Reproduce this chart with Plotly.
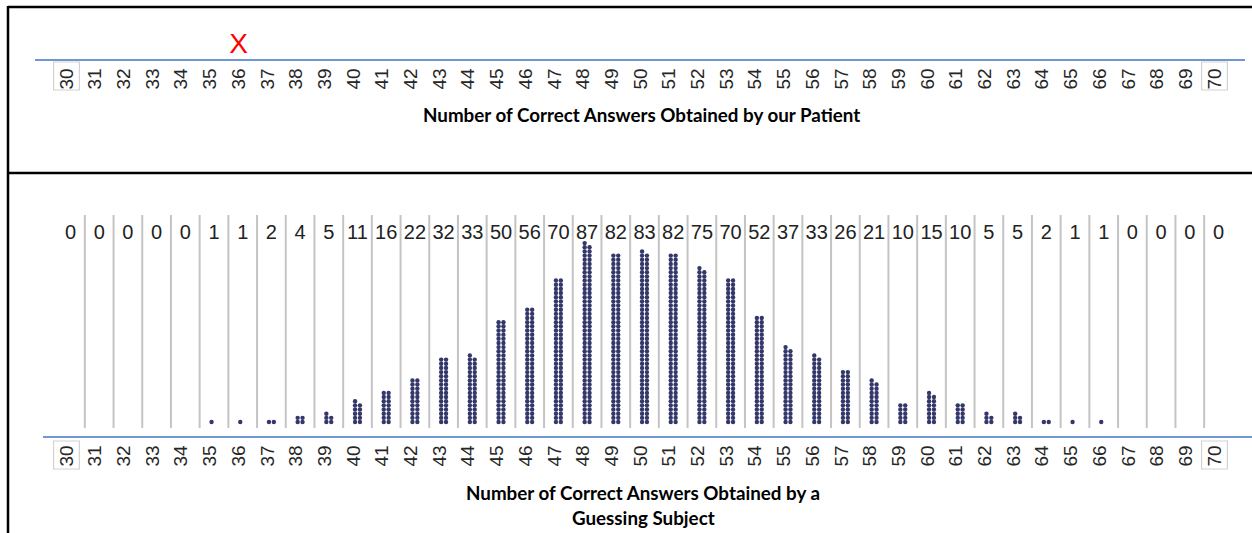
import plotly.graph_objects as go

# ---------------- data ----------------
scores = list(range(30, 71))
counts = [0, 0, 0, 0, 0, 1, 1, 2, 4, 5, 11, 16, 22, 32, 33, 50, 56, 70, 87, 82,
          83, 82, 75, 70, 52, 37, 33, 26, 21, 10, 15, 10, 5, 5, 2, 1, 1, 0, 0, 0, 0]
tick_labels = [str(s) for s in scores]
patient_score = 36
patient_mark = "X"
title_top = "Number of Correct Answers Obtained by our Patient"
title_bottom_1 = "Number of Correct Answers Obtained by a"
title_bottom_2 = "Guessing Subject"

# ---------------- geometry ----------------
W, H = 1252, 533
PX = 28.7          # pixels per score unit
PITCH = 4.16       # pixels per dot row
COLS = 2           # dots per row
COL_OFF = 0.085    # half spacing between dot columns, in score units

def py(p):  # pixel row -> paper y
    return (H - p) / H

# top axis
top_l, top_r = 35, 1245
top_a = 30 - (66.5 - top_l) / PX
top_b = top_a + (top_r - top_l) / PX
# bottom axis
bot_l, bot_r = 43, 1252
bot_a = 30 - (70.5 - bot_l) / PX
bot_b = bot_a + (bot_r - bot_l) / PX

y2_lo = -(436 - 422) / PITCH
y2_hi = (422 - 200) / PITCH

# build dot positions from counts
dot_x, dot_y = [], []
for s, n in zip(scores, counts):
    for i in range(n):
        c = i % COLS
        r = i // COLS
        dot_x.append(s + (-COL_OFF if c == 0 else COL_OFF))
        dot_y.append(r)

fig = go.Figure()

# patient mark
fig.add_trace(go.Scatter(
    x=[patient_score], y=[0.3], mode="text", text=[patient_mark],
    textfont=dict(family="Liberation Sans", size=28, color="#ff0000"),
    xaxis="x", yaxis="y", hoverinfo="skip", showlegend=False))

# dots
fig.add_trace(go.Scatter(
    x=dot_x, y=dot_y, mode="markers",
    marker=dict(size=4.4, color="#34376a", line=dict(width=0)),
    xaxis="x2", yaxis="y2", hoverinfo="skip", showlegend=False))

# counts text
label_row = (422 - 234) / PITCH
fig.add_trace(go.Scatter(
    x=scores, y=[label_row] * len(scores), mode="text",
    text=[str(c) for c in counts],
    textfont=dict(family="Liberation Sans", size=20, color="#222222"),
    xaxis="x2", yaxis="y2", hoverinfo="skip", showlegend=False))

shapes = []
# separators between score cells
for s in scores[:-1]:
    shapes.append(dict(type="line", xref="x2", yref="y2",
                       x0=s + 0.5, x1=s + 0.5,
                       y0=(422 - 428) / PITCH, y1=(422 - 215) / PITCH,
                       line=dict(color="#c4c4c4", width=2)))

# boxes around end tick labels
for s in (scores[0], scores[-1]):
    shapes.append(dict(type="rect", xref="x", yref="paper",
                       x0=s - 0.45, x1=s + 0.45, y0=py(90), y1=py(62),
                       line=dict(color="#d2d2d2", width=1.2)))
    shapes.append(dict(type="rect", xref="x2", yref="paper",
                       x0=s - 0.14 - 0.45, x1=s - 0.14 + 0.45, y0=py(469), y1=py(441),
                       line=dict(color="#d2d2d2", width=1.2)))

# frame lines
frame = dict(color="#000000", width=2.5)
shapes.append(dict(type="line", xref="paper", yref="paper", x0=8 / W, x1=1, y0=py(7), y1=py(7), line=frame))
shapes.append(dict(type="line", xref="paper", yref="paper", x0=8 / W, x1=1, y0=py(173), y1=py(173), line=frame))
shapes.append(dict(type="line", xref="paper", yref="paper", x0=8 / W, x1=8 / W, y0=py(6), y1=0, line=frame))

title_font = dict(family="Lato", size=18.8, color="#000000")
annotations = [
    dict(text="<b>%s</b>" % title_top, xref="paper", yref="paper", x=641 / W, y=py(115),
         showarrow=False, font=title_font, xanchor="center", yanchor="middle"),
    dict(text="<b>%s</b>" % title_bottom_1, xref="paper", yref="paper", x=643 / W, y=py(492),
         showarrow=False, font=title_font, xanchor="center", yanchor="middle"),
    dict(text="<b>%s</b>" % title_bottom_2, xref="paper", yref="paper", x=643 / W, y=py(517),
         showarrow=False, font=title_font, xanchor="center", yanchor="middle"),
]

tickfont = dict(family="Liberation Sans", size=19, color="#262626")
axis_common = dict(tickmode="array", tickvals=scores, ticktext=tick_labels,
                   tickangle=-90, tickfont=tickfont, ticks="", showgrid=False,
                   zeroline=False, showline=True, linecolor="#6f98d0", linewidth=1.5,
                   fixedrange=True)

fig.update_layout(
    width=W, height=H, autosize=False,
    margin=dict(l=0, r=0, t=0, b=0),
    paper_bgcolor="#ffffff", plot_bgcolor="rgba(0,0,0,0)",
    showlegend=False,
    xaxis=dict(domain=[top_l / W, top_r / W], range=[top_a, top_b], anchor="y", **axis_common),
    yaxis=dict(domain=[py(59), py(15)], range=[0, 1], visible=False, fixedrange=True),
    xaxis2=dict(domain=[bot_l / W, 1], range=[bot_a, bot_b], anchor="y2",
                ticklabelshift=-4, **axis_common),
    yaxis2=dict(domain=[py(436), py(200)], range=[y2_lo, y2_hi], visible=False, fixedrange=True),
    shapes=shapes, annotations=annotations,
)

fig.write_html("out.html", config={"displayModeBar": False},
               post_script="document.body.style.margin='0';document.body.style.overflow='hidden';")
